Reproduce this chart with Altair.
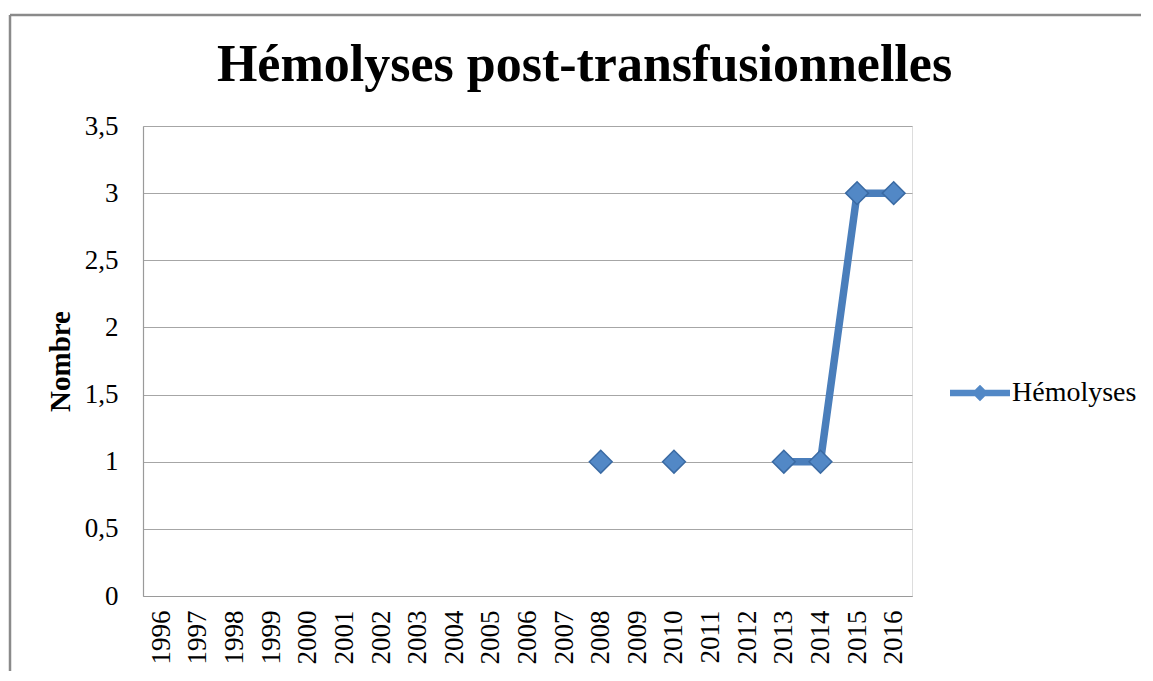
import altair as alt
import pandas as pd

# ---- data ----
years = [str(y) for y in range(1996, 2017)]
values = [None, None, None, None, None, None, None, None, None, None, None, None,
          1, None, 1, None, None, 1, 1, 3, 3]
series_name = "Hémolyses"
y_ticks = [0, 0.5, 1, 1.5, 2, 2.5, 3, 3.5]

df = pd.DataFrame({"year": years, "value": values})
# segments of consecutive non-missing years (the line breaks at gaps)
df["seg"] = df["value"].isna().cumsum()
df["series"] = series_name
pts = df.dropna(subset=["value"]).copy()

FONT = "Liberation Serif"
LINE_COLOR = "#4a7ebb"

x_enc = alt.X("year:O", scale=alt.Scale(domain=years, type="point", padding=0.5),
              axis=alt.Axis(title=None, labelAngle=-90, labelFont=FONT, labelFontSize=27,
                            labelColor="#000", ticks=False, labelPadding=14,
                            domainColor="#9a9a9a", domainWidth=1.2, grid=False))
y_enc = alt.Y("value:Q", scale=alt.Scale(domain=[0, 3.5], nice=False),
              axis=alt.Axis(title="Nombre", values=y_ticks,
                            labelExpr="replace(toString(datum.value), '.', ',')",
                            labelFont=FONT, labelFontSize=27, labelColor="#000",
                            ticks=False, labelPadding=25,
                            titleFont=FONT, titleFontSize=29, titleFontWeight="bold",
                            titleColor="#000", titlePadding=9,
                            domainColor="#9a9a9a", domainWidth=1.2,
                            grid=True, gridColor="#a6a6a6", gridWidth=1.2))

line = alt.Chart(pts).mark_line(color=LINE_COLOR, strokeWidth=7.5, strokeJoin="round").encode(
    x=x_enc, y=y_enc, detail="seg:N")

legend_path = ("M-2,-0.22L2,-0.22L2,0.22L-2,0.22Z "
               "M0,-0.55L0.55,0L0,0.55L-0.55,0Z")

points = alt.Chart(pts).mark_point(shape="diamond", filled=True, size=520, opacity=1,
                                   stroke="#3a6aa3", strokeWidth=1.5).encode(
    x=x_enc, y=y_enc,
    color=alt.Color("series:N", scale=alt.Scale(range=["#5288c6"]),
                    legend=alt.Legend(title=None, orient="none", legendX=822, legendY=252,
                                      symbolType=legend_path, symbolSize=900,
                                      symbolStrokeWidth=0, symbolFillColor=LINE_COLOR,
                                      labelFont=FONT, labelFontSize=28, labelColor="#000",
                                      labelOffset=17, padding=0)))

one = pd.DataFrame({"k": [0]})
frame_top = alt.Chart(one).mark_rule(color="#8a8a8a", strokeWidth=2.5).encode(
    x=alt.value(-133), x2=alt.value(998), y=alt.value(-111))
frame_left = alt.Chart(one).mark_rule(color="#8a8a8a", strokeWidth=2.5).encode(
    x=alt.value(-133), y=alt.value(-111), y2=alt.value(545))

chart = alt.layer(frame_top, frame_left, line, points).properties(
    width=769, height=470,
    padding={"left": 0, "top": 5, "right": 0, "bottom": 0},
    title=alt.TitleParams("Hémolyses post-transfusionnelles", font=FONT, fontSize=52,
                          fontWeight="bold", color="#000", anchor="middle", dx=57,
                          offset=-78),
).configure_view(stroke=None).configure(background="white")

chart.save("out.html", embed_options={"renderer": "svg", "actions": False})
